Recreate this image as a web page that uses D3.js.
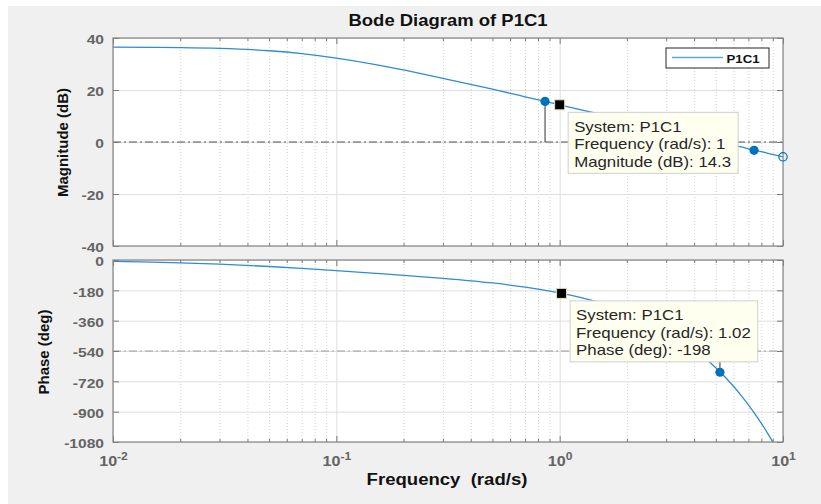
<!DOCTYPE html>
<html>
<head>
<meta charset="utf-8">
<script src="https://cdn.jsdelivr.net/npm/d3@7"></script>
<style>
  body { margin: 0; background: #fff; }
  svg { display: block; font-family: Arial, "Liberation Sans", sans-serif; }
</style>
</head>
<body>
<svg id="chart" width="821" height="504"></svg>
<script>
/* Bode diagram of P1C1: magnitude + phase, log frequency axis */

// values
const magFreqs = [0.01, 0.015, 0.02, 0.03, 0.05, 0.07, 0.1, 0.15, 0.2, 0.3, 0.5, 0.7, 1, 1.5, 2, 2.5, 3, 3.5, 4, 4.5, 5, 5.5, 6, 6.5, 7, 7.5, 8, 8.5, 9, 10];
const magnitudeDb = [36.5, 36.4, 36.3, 36.0, 35.1, 34.0, 32.3, 29.8, 27.7, 24.5, 20.3, 17.4, 14.3, 10.8, 8.3, 6.4, 4.8, 3.5, 2.3, 1.3, 0.4, -0.5, -1.2, -1.9, -2.6, -3.2, -3.7, -4.3, -4.8, -5.7];
const phaseFreqs = [0.01, 0.015, 0.02, 0.03, 0.05, 0.07, 0.1, 0.15, 0.2, 0.3, 0.5, 0.7, 1, 1.5, 2, 2.5, 3, 3.5, 4, 4.5, 5, 5.5, 6, 6.5, 7, 7.5, 8, 8.5, 9, 9.1];
const phaseDeg = [-8.5, -12.7, -16.8, -24.6, -38.5, -50.0, -63.4, -79.3, -90.9, -108.6, -136.2, -160.7, -195.6, -252.1, -307.8, -363.2, -418.5, -473.7, -528.9, -584.0, -639.1, -694.2, -749.3, -804.3, -859.4, -914.4, -969.4, -1024.5, -1079.5, -1090.5];

const magTicks = [-40, -20, 0, 20, 40];
const phaseTicks = [-1080, -900, -720, -540, -360, -180, 0];
const decadeTicks = [0.01, 0.1, 1, 10];
const decadeExps = ['-2', '-1', '0', '1'];

// characteristic points and data tips
const magDotFreqs = [0.86, 7.42];
const magDotDb = [15.6, -3.2];
const magOpenFreqs = [10];
const magOpenDb = [-5.7];
const magTip = { f: 1, v: 14.3, lines: ['System: P1C1', 'Frequency (rad/s): 1', 'Magnitude (dB): 14.3'] };
const phaseDotFreqs = [5.22];
const phaseDotDeg = [-666];
const phaseTip = { f: 1.02, v: -198, lines: ['System: P1C1', 'Frequency (rad/s): 1.02', 'Phase (deg): -198'] };

const W = 821, H = 504;
const left = 113, right = 783;
const blue = '#0072bd';
const lineBlue = '#2f8bd3';

const svg = d3.select('#chart');
svg.append('rect').attr('x', 8).attr('y', 6).attr('width', W - 8).attr('height', H - 6).attr('fill', '#f0f0f0');

const x = d3.scaleLog().domain([0.01, 10]).range([left, right]);
const minorTicks = x.ticks().filter(t => !decadeTicks.some(d => Math.abs(d - t) < 1e-9));

// text that is a bit wider than the font (the reference is stretched horizontally)
function label(parent, tx, ty, str, size, sx, anchor) {
  return parent.append('text')
    .attr('transform', `translate(${tx},${ty}) scale(${sx},1)`)
    .attr('text-anchor', anchor || 'middle')
    .attr('font-size', size)
    .text(str);
}

function panel(name, y, yTicks, top, bottom, refValue, refColor, freqs, values) {
  const g = svg.append('g');
  const w = right - left, h = bottom - top;
  g.append('rect').attr('x', left).attr('y', top).attr('width', w).attr('height', h).attr('fill', '#fff');

  // minor x grid (dotted)
  g.append('g').attr('transform', `translate(0,${bottom})`)
    .call(d3.axisBottom(x).tickValues(minorTicks).tickSize(-h).tickFormat(''))
    .call(a => a.select('.domain').remove())
    .call(a => a.selectAll('line').attr('stroke', '#d2d2d2').attr('stroke-dasharray', '1,2'));
  // major x grid
  g.append('g').attr('transform', `translate(0,${bottom})`)
    .call(d3.axisBottom(x).tickValues(decadeTicks).tickSize(-h).tickFormat(''))
    .call(a => a.select('.domain').remove())
    .call(a => a.selectAll('line').attr('stroke', '#dedede'));
  // y grid
  g.append('g').attr('transform', `translate(${left},0)`)
    .call(d3.axisLeft(y).tickValues(yTicks).tickSize(-w).tickFormat(''))
    .call(a => a.select('.domain').remove())
    .call(a => a.selectAll('line').attr('stroke', '#dedede'));

  // reference dash-dot line
  g.append('line')
    .attr('x1', left).attr('x2', right).attr('y1', y(refValue)).attr('y2', y(refValue))
    .attr('stroke', refColor).attr('stroke-width', 1).attr('stroke-dasharray', '8,3,2,3');

  g.append('clipPath').attr('id', 'clip-' + name)
    .append('rect').attr('x', left).attr('y', top).attr('width', w).attr('height', h);

  const line = d3.line()
    .x((d, i) => x(freqs[i]))
    .y(d => y(d))
    .curve(d3.curveMonotoneX);
  g.append('path').datum(values)
    .attr('clip-path', `url(#clip-${name})`)
    .attr('d', line)
    .attr('fill', 'none').attr('stroke', lineBlue).attr('stroke-width', 1.3);

  // inward ticks on every side
  const tickCol = '#7a7a7a';
  const tickAxes = [
    [d3.axisLeft(y).tickValues(yTicks).tickSize(-6), `translate(${left},0)`],
    [d3.axisRight(y).tickValues(yTicks).tickSize(-6), `translate(${right},0)`],
    [d3.axisTop(x).tickValues(decadeTicks).tickSize(-6), `translate(0,${top})`],
    [d3.axisTop(x).tickValues(minorTicks).tickSize(-3), `translate(0,${top})`],
    [d3.axisBottom(x).tickValues(decadeTicks).tickSize(-6), `translate(0,${bottom})`],
    [d3.axisBottom(x).tickValues(minorTicks).tickSize(-3), `translate(0,${bottom})`]
  ];
  tickAxes.forEach(([ax, tr]) => {
    g.append('g').attr('transform', tr).call(ax.tickFormat(''))
      .call(a => a.select('.domain').remove())
      .call(a => a.selectAll('line').attr('stroke', tickCol));
  });

  // y tick labels (plain hyphen minus, no thousands separator)
  const sx = 1.2;
  g.append('g').attr('transform', `translate(${left},0)`)
    .call(d3.axisLeft(y).tickValues(yTicks).tickSize(0).tickPadding(0).tickFormat(d => String(d)))
    .call(a => a.select('.domain').remove())
    .call(a => a.selectAll('text')
      .attr('x', -9 / sx).attr('dy', '0.45em')
      .attr('transform', `scale(${sx},1)`)
      .attr('font-family', 'Arial, "Liberation Sans", sans-serif')
      .attr('font-size', 13).attr('font-weight', 'bold').attr('fill', '#646464'));

  g.append('rect').attr('x', left).attr('y', top).attr('width', w).attr('height', h)
    .attr('fill', 'none').attr('stroke', '#858585').attr('stroke-width', 1.2);
  return g;
}

const yMag = d3.scaleLinear().domain([-40, 40]).range([246, 38]);
const yPh = d3.scaleLinear().domain([-1080, 0]).range([442, 260]);

const gMag = panel('mag', yMag, magTicks, 38, 246, 0, '#555', magFreqs, magnitudeDb);
const gPh = panel('phase', yPh, phaseTicks, 260, 442, -540, '#9a9a9a', phaseFreqs, phaseDeg);

// x tick labels (10^n) under the phase panel
const xLab = gPh.append('g').attr('transform', 'translate(0,442)')
  .call(d3.axisBottom(x).tickValues(decadeTicks).tickSize(0).tickFormat(''))
  .call(a => a.select('.domain').remove());
xLab.selectAll('.tick').each(function (d, i) {
  const t = d3.select(this).append('text')
    .attr('transform', 'translate(0,24) scale(1.15,1)')
    .attr('text-anchor', 'middle')
    .attr('font-size', 14).attr('font-weight', 'bold').attr('fill', '#646464');
  t.append('tspan').text('10');
  t.append('tspan').attr('dy', -6).attr('font-size', 10.5).text(decadeExps[i]);
});

// markers: magnitude
gMag.selectAll('.stem').data(magDotFreqs.slice(0, 1)).enter().append('line')
  .attr('x1', d => x(d)).attr('x2', d => x(d))
  .attr('y1', (d, i) => yMag(magDotDb[i])).attr('y2', yMag(0))
  .attr('stroke', '#333').attr('stroke-width', 1);
gMag.selectAll('.dot').data(magDotFreqs).enter().append('circle')
  .attr('cx', d => x(d)).attr('cy', (d, i) => yMag(magDotDb[i])).attr('r', 4.6)
  .attr('fill', blue);
gMag.selectAll('.open').data(magOpenFreqs).enter().append('circle')
  .attr('cx', d => x(d)).attr('cy', (d, i) => yMag(magOpenDb[i])).attr('r', 4.2)
  .attr('fill', 'none').attr('stroke', blue).attr('stroke-width', 1.2);

// markers: phase
gPh.selectAll('.stem').data(phaseDotFreqs).enter().append('line')
  .attr('x1', d => x(d)).attr('x2', d => x(d))
  .attr('y1', (d, i) => yPh(phaseDotDeg[i])).attr('y2', yPh(-540))
  .attr('stroke', '#333').attr('stroke-width', 1);
gPh.selectAll('.dot').data(phaseDotFreqs).enter().append('circle')
  .attr('cx', d => x(d)).attr('cy', (d, i) => yPh(phaseDotDeg[i])).attr('r', 4.6)
  .attr('fill', blue);

// data tips
function dataTip(g, y, tip) {
  const px = x(tip.f), py = y(tip.v);
  const box = g.append('g');
  const bx = px + 8.5, by = py + 7.5;
  const rect = box.append('rect').attr('x', bx).attr('y', by).attr('height', 61)
    .attr('fill', '#fffff0').attr('stroke', '#cfcfcf').attr('stroke-width', 1);
  let maxW = 0;
  tip.lines.forEach((s, i) => {
    const t = label(box, bx + 6, by + 19.5 + i * 17.5, s, 14.5, 1.16, 'start').attr('fill', '#262626');
    maxW = Math.max(maxW, t.node().getComputedTextLength() * 1.16);
  });
  rect.attr('width', maxW + 13);
  g.append('rect').attr('x', px - 5).attr('y', py - 5).attr('width', 10).attr('height', 10)
    .attr('fill', '#000').attr('stroke', '#e6dfae').attr('stroke-width', 1);
}
dataTip(gMag, yMag, magTip);
dataTip(gPh, yPh, phaseTip);

// legend
const leg = gMag.append('g');
leg.append('rect').attr('x', 666).attr('y', 48).attr('width', 103).attr('height', 20)
  .attr('fill', '#fff').attr('stroke', '#262626').attr('stroke-width', 1);
leg.append('line').attr('x1', 672).attr('x2', 723).attr('y1', 57.5).attr('y2', 57.5)
  .attr('stroke', '#5aa8e0').attr('stroke-width', 1.4);
label(leg, 726.5, 62.5, 'P1C1', 11.5, 1.15, 'start').attr('font-weight', 'bold').attr('fill', '#111');

// titles
label(svg, 448, 26, 'Bode Diagram of P1C1', 16.5, 1.12).attr('font-weight', 'bold').attr('fill', '#111');
label(svg, 447, 485, 'Frequency  (rad/s)', 16, 1.16).attr('font-weight', 'bold').attr('fill', '#111')
  .style('white-space', 'pre');
svg.append('text').attr('transform', 'translate(68,142.5) rotate(-90)')
  .attr('text-anchor', 'middle').attr('font-size', 15).attr('font-weight', 'bold').attr('fill', '#111')
  .text('Magnitude (dB)');
svg.append('text').attr('transform', 'translate(49,352) rotate(-90)')
  .attr('text-anchor', 'middle').attr('font-size', 15).attr('font-weight', 'bold').attr('fill', '#111')
  .text('Phase (deg)');
</script>
</body>
</html>
